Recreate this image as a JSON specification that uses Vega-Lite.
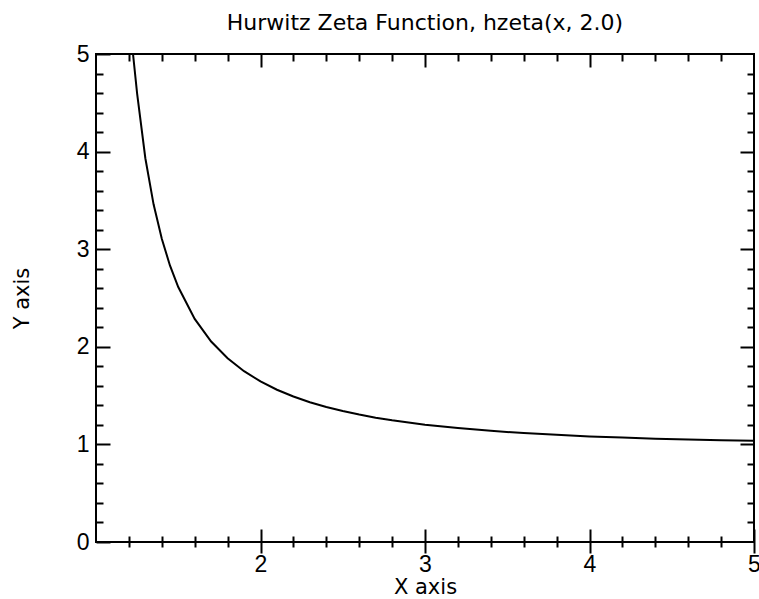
{
  "$schema": "https://vega.github.io/schema/vega-lite/v6.json",
  "autosize": "none",
  "width": 658,
  "height": 488,
  "padding": {"left": 96, "top": 54, "right": 5, "bottom": 57},
  "background": "white",
  "view": {"stroke": "black", "strokeWidth": 2},
  "title": {"text": "Hurwitz Zeta Function, hzeta(x, 2.0)", "font": "DejaVu Sans", "fontSize": 22, "fontWeight": "normal", "color": "black", "offset": 8, "anchor": "middle"},
  "config": {
    "axis": {"domain": false, "grid": false, "tickColor": "black", "tickWidth": 2, "labelColor": "black", "labelFont": "Liberation Sans", "labelFontSize": 23, "titleFont": "DejaVu Sans", "titleFontSize": 21, "titleFontWeight": "normal", "titleColor": "black"}
  },
  "data": {"values": [
    {"x": 1.225, "y": 5.0},
    {"x": 1.25, "y": 4.595},
    {"x": 1.3, "y": 3.932},
    {"x": 1.35, "y": 3.460},
    {"x": 1.4, "y": 3.106},
    {"x": 1.45, "y": 2.831},
    {"x": 1.5, "y": 2.612},
    {"x": 1.6, "y": 2.286},
    {"x": 1.7, "y": 2.054},
    {"x": 1.8, "y": 1.882},
    {"x": 1.9, "y": 1.750},
    {"x": 2.0, "y": 1.645},
    {"x": 2.1, "y": 1.560},
    {"x": 2.2, "y": 1.491},
    {"x": 2.3, "y": 1.432},
    {"x": 2.4, "y": 1.383},
    {"x": 2.5, "y": 1.342},
    {"x": 2.6, "y": 1.306},
    {"x": 2.7, "y": 1.274},
    {"x": 2.8, "y": 1.247},
    {"x": 2.9, "y": 1.224},
    {"x": 3.0, "y": 1.202},
    {"x": 3.2, "y": 1.167},
    {"x": 3.4, "y": 1.139},
    {"x": 3.6, "y": 1.116},
    {"x": 3.8, "y": 1.098},
    {"x": 4.0, "y": 1.082},
    {"x": 4.2, "y": 1.070},
    {"x": 4.4, "y": 1.059},
    {"x": 4.6, "y": 1.051},
    {"x": 4.8, "y": 1.043},
    {"x": 5.0, "y": 1.037}
  ]},
  "resolve": {"axis": {"x": "independent", "y": "independent"}},
  "layer": [
    {
      "mark": {"type": "line", "color": "black", "strokeWidth": 2, "clip": true},
      "encoding": {
        "x": {"field": "x", "type": "quantitative", "scale": {"domain": [1, 5], "nice": false, "zero": false},
          "axis": {"orient": "bottom", "values": [2, 3, 4, 5], "offset": -13, "tickSize": 24, "labelPadding": 0, "title": "X axis", "titlePadding": 0, "labelFlush": false, "labelOverlap": false}},
        "y": {"field": "y", "type": "quantitative", "scale": {"domain": [0, 5], "nice": false, "zero": false},
          "axis": {"orient": "left", "values": [0, 1, 2, 3, 4, 5], "tickSize": -14, "labelPadding": 21, "title": "Y axis", "titlePadding": 44, "labelFlush": false, "labelOverlap": false}}
      }
    },
    {
      "mark": {"type": "point", "opacity": 0},
      "encoding": {
        "x": {"field": "x", "type": "quantitative", "scale": {"domain": [1, 5], "nice": false, "zero": false},
          "axis": {"orient": "bottom", "values": [1.2, 1.4, 1.6, 1.8, 2.2, 2.4, 2.6, 2.8, 3.2, 3.4, 3.6, 3.8, 4.2, 4.4, 4.6, 4.8], "offset": -6, "tickSize": 11, "labels": false, "title": null}},
        "y": {"field": "y", "type": "quantitative", "scale": {"domain": [0, 5], "nice": false, "zero": false},
          "axis": {"orient": "left", "values": [0.2, 0.4, 0.6, 0.8, 1.2, 1.4, 1.6, 1.8, 2.2, 2.4, 2.6, 2.8, 3.2, 3.4, 3.6, 3.8, 4.2, 4.4, 4.6, 4.8], "tickSize": -7, "labels": false, "title": null}}
      }
    },
    {
      "mark": {"type": "point", "opacity": 0},
      "encoding": {
        "x": {"field": "x", "type": "quantitative", "scale": {"domain": [1, 5], "nice": false, "zero": false},
          "axis": {"orient": "top", "values": [2, 3, 4], "tickSize": -13, "labels": false, "title": null}},
        "y": {"field": "y", "type": "quantitative", "scale": {"domain": [0, 5], "nice": false, "zero": false},
          "axis": {"orient": "right", "values": [1, 2, 3, 4], "tickSize": -14, "labels": false, "title": null}}
      }
    },
    {
      "mark": {"type": "point", "opacity": 0},
      "encoding": {
        "x": {"field": "x", "type": "quantitative", "scale": {"domain": [1, 5], "nice": false, "zero": false},
          "axis": {"orient": "top", "values": [1.2, 1.4, 1.6, 1.8, 2.2, 2.4, 2.6, 2.8, 3.2, 3.4, 3.6, 3.8, 4.2, 4.4, 4.6, 4.8], "tickSize": -7, "labels": false, "title": null}},
        "y": {"field": "y", "type": "quantitative", "scale": {"domain": [0, 5], "nice": false, "zero": false},
          "axis": {"orient": "right", "values": [0.2, 0.4, 0.6, 0.8, 1.2, 1.4, 1.6, 1.8, 2.2, 2.4, 2.6, 2.8, 3.2, 3.4, 3.6, 3.8, 4.2, 4.4, 4.6, 4.8], "tickSize": -7, "labels": false, "title": null}}
      }
    }
  ]
}
